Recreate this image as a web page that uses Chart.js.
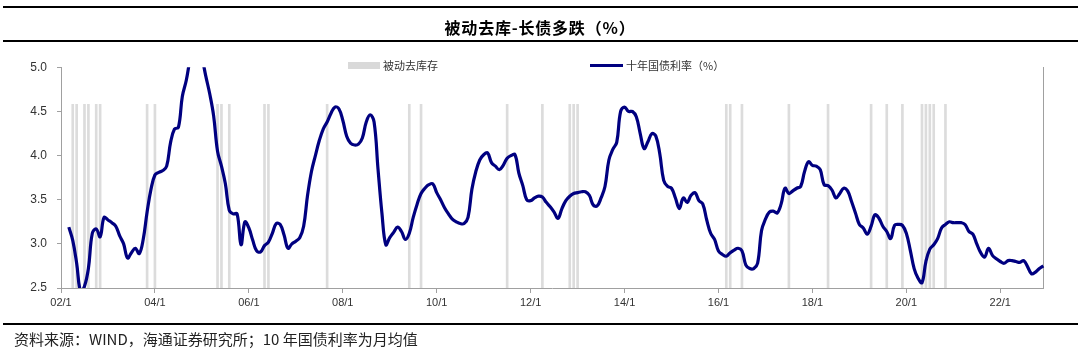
<!DOCTYPE html>
<html>
<head>
<meta charset="utf-8">
<script src="https://cdn.jsdelivr.net/npm/chart.js@4.4.1/dist/chart.umd.min.js"></script>
<style>
  html, body { margin: 0; padding: 0; background: #fff; }
  #wrap { position: relative; width: 1080px; height: 354px; overflow: hidden; }
  #chart { position: absolute; left: 0; top: 0; }
  .rule { position: absolute; left: 3px; width: 1075px; height: 2px; background: #000; }
  #title { position: absolute; left: 0; width: 1080px; top: 15px; text-align: center;
           font: bold 16px "Noto Sans CJK SC", sans-serif; color: #000; letter-spacing: 0.8px; }
  .legend { position: absolute; top: 58px; font: 11px "Noto Sans CJK SC", sans-serif; color: #333; line-height: 15px; }
  .swatch { position: absolute; }
  #source { position: absolute; left: 14px; top: 328px; font: 15px "Noto Sans CJK SC", "Liberation Sans", sans-serif; color: #222; }
</style>
</head>
<body>
<div id="wrap">
  <canvas id="chart" width="1080" height="354"></canvas>
  <div class="rule" style="top:6px"></div>
  <div id="title">被动去库-长债多跌（%）</div>
  <div class="rule" style="top:40px"></div>
  <div class="swatch" style="left:348px;top:62px;width:32px;height:7px;background:#d9d9d9"></div>
  <div class="legend" style="left:383px">被动去库存</div>
  <div class="swatch" style="left:590px;top:64px;width:33px;height:3px;background:#000080"></div>
  <div class="legend" style="left:626px">十年国债利率（%）</div>
  <div class="rule" style="top:323px"></div>
  <div id="source">资料来源：WIND，海通证券研究所；10 年国债利率为月均值</div>
</div>
<script>
// month categories 2002-01 .. 2022-12
const months = [];
for (let y = 2002; y <= 2022; y++) {
    for (let m = 1; m <= 12; m++) months.push(y + '-' + String(m).padStart(2, '0'));
}

// 10-year government bond yield, monthly average (%)
const yield10y = [
    null, null, 3.19, 3.04, 2.78, 2.46, 2.52, 2.72, 3.12, 3.17, 3.08, 3.30, // 2002
    3.27, 3.24, 3.20, 3.09, 3.00, 2.84, 2.90, 2.95, 2.89, 3.05, 3.36, 3.62, // 2003
    3.78, 3.81, 3.83, 3.88, 4.15, 4.30, 4.32, 4.67, 4.85, 5.10, 5.30, 5.30, // 2004
    5.12, 4.90, 4.70, 4.45, 4.05, 3.88, 3.68, 3.38, 3.34, 3.34, 2.99, 3.25, // 2005
    3.18, 3.04, 2.92, 2.91, 2.98, 3.02, 3.12, 3.23, 3.22, 3.10, 2.95, 3.00, // 2006
    3.03, 3.07, 3.20, 3.55, 3.82, 4.00, 4.17, 4.30, 4.38, 4.48, 4.55, 4.53, // 2007
    4.40, 4.22, 4.14, 4.12, 4.13, 4.20, 4.38, 4.46, 4.38, 3.85, 3.35, 2.99, // 2008
    3.07, 3.13, 3.19, 3.14, 3.05, 3.12, 3.30, 3.45, 3.57, 3.63, 3.67, 3.68, // 2009
    3.58, 3.50, 3.41, 3.34, 3.28, 3.25, 3.23, 3.23, 3.30, 3.62, 3.82, 3.95, // 2010
    4.01, 4.03, 3.92, 3.88, 3.84, 3.89, 3.97, 4.00, 4.01, 3.80, 3.66, 3.50, // 2011
    3.49, 3.52, 3.54, 3.53, 3.47, 3.42, 3.36, 3.29, 3.40, 3.49, 3.54, 3.57, // 2012
    3.58, 3.59, 3.59, 3.55, 3.44, 3.43, 3.52, 3.65, 3.95, 4.07, 4.15, 4.50, // 2013
    4.55, 4.50, 4.50, 4.44, 4.25, 4.08, 4.16, 4.25, 4.22, 4.02, 3.72, 3.65, // 2014
    3.63, 3.52, 3.40, 3.52, 3.47, 3.55, 3.58, 3.49, 3.45, 3.27, 3.12, 3.05, // 2015
    2.92, 2.88, 2.86, 2.90, 2.93, 2.95, 2.92, 2.76, 2.72, 2.72, 2.78, 3.15, // 2016
    3.28, 3.36, 3.37, 3.35, 3.45, 3.63, 3.57, 3.60, 3.63, 3.65, 3.82, 3.93, // 2017
    3.89, 3.88, 3.84, 3.67, 3.66, 3.61, 3.52, 3.57, 3.63, 3.60, 3.48, 3.35, // 2018
    3.22, 3.18, 3.11, 3.20, 3.33, 3.29, 3.20, 3.14, 3.06, 3.21, 3.22, 3.21, // 2019
    3.12, 2.93, 2.72, 2.61, 2.56, 2.80, 2.94, 2.99, 3.06, 3.18, 3.22, 3.25, // 2020
    3.24, 3.24, 3.24, 3.22, 3.14, 3.11, 3.00, 2.90, 2.85, 2.95, 2.87, 2.83, // 2021
    2.80, 2.78, 2.81, 2.81, 2.80, 2.79, 2.81, 2.74, 2.66, 2.68, 2.72, 2.75  // 2022
];

// months flagged as passive destocking
const destockMonths = [
    '2002-04', '2002-05', '2002-07', '2002-08', '2002-10', '2002-11',
    '2003-11', '2004-01', '2005-05', '2005-06', '2005-08', '2006-05', '2006-06',
    '2007-09', '2009-06', '2009-09', '2011-07', '2012-04',
    '2012-11', '2012-12', '2013-01', '2016-03', '2016-04', '2016-07',
    '2017-07', '2018-05', '2019-04', '2019-08', '2019-12',
    '2020-05', '2020-06', '2020-07', '2020-08', '2020-11'
];
const destockLevel = 4.58;

const yTicks = [2.5, 3.0, 3.5, 4.0, 4.5, 5.0];

const destockBars = months.map(m => destockMonths.includes(m) ? destockLevel : null);

const axisGray = '#a0a0a0';

new Chart(document.getElementById('chart'), {
    type: 'bar',
    data: {
        labels: months,
        datasets: [
            {
                type: 'line',
                label: '十年国债利率（%）',
                data: yield10y,
                borderColor: '#000080',
                borderWidth: 3.2,
                pointRadius: 0,
                tension: 0.4,
                order: 1
            },
            {
                label: '被动去库存',
                data: destockBars,
                backgroundColor: '#dcdcdc',
                barThickness: 2,
                order: 2
            }
        ]
    },
    options: {
        responsive: false,
        animation: false,
        devicePixelRatio: 1,
        layout: { padding: { left: 0, right: 36.7, top: 67.3, bottom: 0 } },
        plugins: {
            legend: { display: false },
            tooltip: { enabled: false }
        },
        scales: {
            x: {
                offset: false,
                grid: { offset: false, drawOnChartArea: false, drawTicks: true, tickLength: 5, color: axisGray },
                border: { color: axisGray, width: 1 },
                afterBuildTicks: scale => {
                    scale.ticks = scale.ticks.filter(t => {
                        const m = months[t.value];
                        return m.endsWith('-01') && Number(m.slice(0, 4)) % 2 === 0;
                    });
                },
                afterFit: scale => { scale.height = 66; },
                ticks: {
                    autoSkip: false,
                    maxRotation: 0,
                    padding: 3,
                    color: '#333',
                    font: { family: 'Liberation Sans', size: 11 },
                    callback: value => months[value].slice(2, 4) + '/1'
                }
            },
            y: {
                min: 2.5,
                max: 5.0,
                grid: { drawOnChartArea: false, drawTicks: true, tickLength: 4, color: axisGray },
                border: { color: axisGray, width: 1 },
                afterBuildTicks: scale => { scale.ticks = yTicks.map(v => ({ value: v })); },
                afterFit: scale => { scale.width = 61; },
                ticks: {
                    padding: 10,
                    color: '#333',
                    font: { family: 'Liberation Sans', size: 12 },
                    callback: v => v.toFixed(1)
                }
            },
            y2: {
                type: 'linear',
                position: 'right',
                min: 2.5,
                max: 5.0,
                grid: { display: false },
                border: { display: true, color: axisGray, width: 1 },
                ticks: { display: false },
                afterFit: scale => { scale.width = 0; }
            }
        }
    }
});
</script>
</body>
</html>
